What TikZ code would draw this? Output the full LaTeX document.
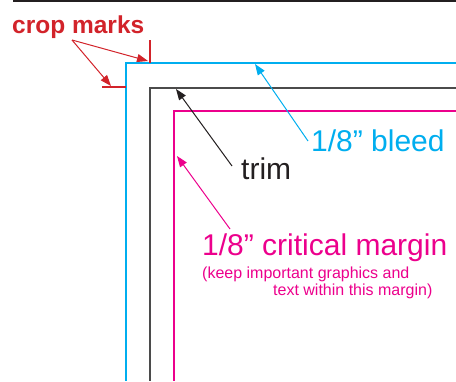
\documentclass[tikz,border=0pt]{standalone}
\usepackage{fontspec}
\setmainfont{Liberation Sans}
\usetikzlibrary{arrows.meta}
\definecolor{bleedblue}{RGB}{0,174,239}
\definecolor{cropred}{RGB}{210,35,42}
\definecolor{marginpink}{RGB}{236,0,140}
\definecolor{trimgrey}{RGB}{75,75,75}
\definecolor{textblack}{RGB}{35,31,32}
\begin{document}
\begin{tikzpicture}[x=1pt,y=-1pt,>={Triangle[length=11pt,width=8pt]},
 bigtext/.style = {inner sep=0pt, anchor=base west, font=\fontsize{30}{30}\selectfont},
 smalltext/.style = {inner sep=0pt, anchor=base west, font=\fontsize{16}{16}\selectfont},
 pointer/.style = {->, line width=1pt, shorten >=0pt},]
\useasboundingbox (0,0) rectangle (456,381);
\fill[textblack] (13,0) rectangle (456,2.2);
% the three edges
\draw[bleedblue, line width=1.3pt] (456,63) -| (126,381);
\draw[trimgrey, line width=1.5pt] (456,88) -| (150,381);
\draw[marginpink, line width=1.5pt] (456,111) -| (174,381);
% crop marks
\draw[cropred, line width=1.3pt] (150,40) -- (150,63);
\draw[cropred, line width=1.3pt] (102,87) -- (126,87);
\node (crop) at (12,33)[bigtext, font=\fontsize{24.5}{24.5}\selectfont\bfseries, text=cropred] {crop marks};
\node (trim) at (241,179)[bigtext, text=textblack] {trim};
\node (bleed) at (311,151)[bigtext, text=bleedblue] {1/8” bleed};
\node (margin) at (202,255)[bigtext, text=marginpink] {1/8” critical margin};
\node (keep) at (202,278)[smalltext, text=marginpink] {(keep important graphics and};
\node (within) at (273,295)[smalltext, text=marginpink] {text within this margin)};
\coordinate (C0) at (72,40);
\coordinate (C1) at (148,61);
\coordinate (C2) at (111,86);
\coordinate (T0) at (232,166);
\coordinate (T1) at (176,89);
\coordinate (B0) at (308,141);
\coordinate (B1) at (255,64);
\coordinate (M0) at (230,229);
\coordinate (M1) at (177,156);
\draw[pointer, cropred] (C0)--(C1);
\draw[pointer, cropred] (C0)--(C2);
\draw[pointer, textblack] (T0)--(T1);
\draw[pointer, bleedblue] (B0)--(B1);
\draw[pointer, marginpink] (M0)--(M1);
\end{tikzpicture}
\end{document}
